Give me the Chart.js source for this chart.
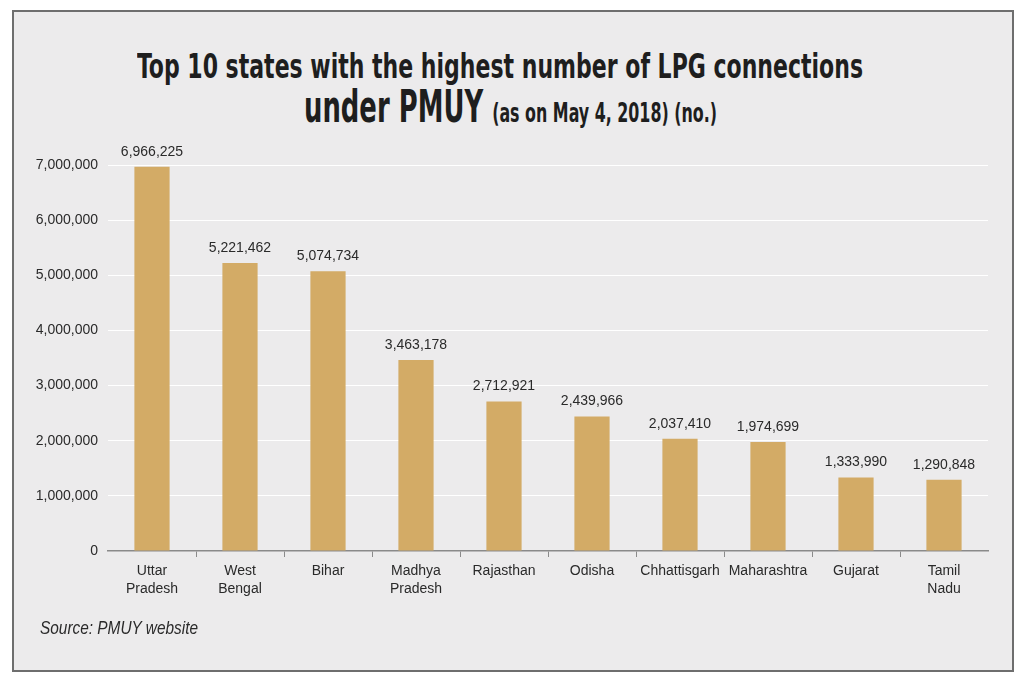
<!DOCTYPE html>
<html>
<head>
<meta charset="utf-8">
<script src="https://cdn.jsdelivr.net/npm/chart.js@4"></script>
<style>
  html, body { margin:0; padding:0; background:#fff; width:1024px; height:686px; overflow:hidden; }
  #box { position:absolute; left:12px; top:10px; width:998px; height:658px; border:2px solid #6e6e6e; background:#ecebec; }
  .tline { position:absolute; white-space:nowrap; color:#1e1e1e; font-family:"DejaVu Sans Condensed","DejaVu Sans",sans-serif;
    font-weight:bold; transform-origin:0 0; }
  #t1 { top:49px; font-size:34px; line-height:34px; }
  #t2 { top:85px; font-size:44px; line-height:44px; }
  #t2 small { font-size:27px; line-height:27px; }
  #wrap { position:absolute; left:14px; top:130px; width:996px; height:490px; }
  #source { position:absolute; left:40px; top:618px; white-space:nowrap; font-family:"Liberation Sans",Arial,sans-serif;
    font-style:italic; font-size:18px; color:#2a2a2a; transform-origin:0 0; }
</style>
</head>
<body>
<div id="box"></div>
<div id="t1" class="tline">Top 10 states with the highest number of LPG connections</div>
<div id="t2" class="tline">under PMUY <small>(as on May 4, 2018) (no.)</small></div>
<div id="wrap"><canvas id="chart"></canvas></div>
<div id="source">Source: PMUY website</div>
<script>
const STATES = [["Uttar","Pradesh"],["West","Bengal"],"Bihar",["Madhya","Pradesh"],"Rajasthan","Odisha","Chhattisgarh","Maharashtra","Gujarat",["Tamil","Nadu"]];
const CONNECTIONS = [6966225, 5221462, 5074734, 3463178, 2712921, 2439966, 2037410, 1974699, 1333990, 1290848];
const Y_MAX = 7000000;
const Y_STEP = 1000000;

const FONT = '"Liberation Sans",Arial,sans-serif';
const COLORS = { bar:"#d3ab66", ink:"#2a2a2a", axis:"#8a8a8a", grid:"#ffffff" };
const fmt = v => Number(v).toLocaleString("en-US");

// squeeze the heavy title lines to the condensed look of the original
function fitLine(id, left, width){
  const el = document.getElementById(id);
  const w = el.getBoundingClientRect().width;
  el.style.left = left + "px";
  el.style.transform = "scaleX(" + (width / w) + ")";
}
fitLine("t1", 137, 726);
fitLine("t2", 304, 413);
fitLine("source", 40, 158);

const valueLabels = {
  id:"valueLabels",
  afterDatasetsDraw(chart){
    const ctx = chart.ctx;
    const meta = chart.getDatasetMeta(0);
    ctx.save();
    ctx.font = "14px " + FONT;
    ctx.fillStyle = COLORS.ink;
    ctx.textAlign = "center";
    ctx.textBaseline = "alphabetic";
    meta.data.forEach((bar, i) => {
      ctx.fillText(fmt(CONNECTIONS[i]), bar.x, bar.y - 11);
    });
    ctx.restore();
  }
};

new Chart(document.getElementById("chart"), {
  type:"bar",
  data:{ labels:STATES, datasets:[{ data:CONNECTIONS, backgroundColor:COLORS.bar, categoryPercentage:1, barPercentage:0.4 }] },
  options:{
    responsive:true, maintainAspectRatio:false, animation:false,
    layout:{ padding:{ top:35, right:22, left:0, bottom:0 } },
    plugins:{ legend:{ display:false }, tooltip:{ enabled:false } },
    scales:{
      x:{
        grid:{ drawOnChartArea:false, drawTicks:true, tickLength:6, color:c => c.index > 0 ? COLORS.axis : "rgba(0,0,0,0)" },
        border:{ display:true, color:COLORS.axis, width:1.5 },
        ticks:{ color:COLORS.ink, font:{ family:FONT, size:14, lineHeight:1.3 }, padding:5, maxRotation:0, autoSkip:false },
        afterFit:s => { s.height = 69; }
      },
      y:{
        min:0, max:Y_MAX,
        grid:{ drawTicks:false, color:c => c.tick && c.tick.value === 0 ? "rgba(0,0,0,0)" : COLORS.grid, lineWidth:1 },
        border:{ display:false },
        ticks:{ stepSize:Y_STEP, color:COLORS.ink, padding:10, font:{ family:FONT, size:14 }, callback:v => fmt(v) },
        afterFit:s => { s.width = 94; }
      }
    }
  },
  plugins:[valueLabels]
});
</script>
</body>
</html>
